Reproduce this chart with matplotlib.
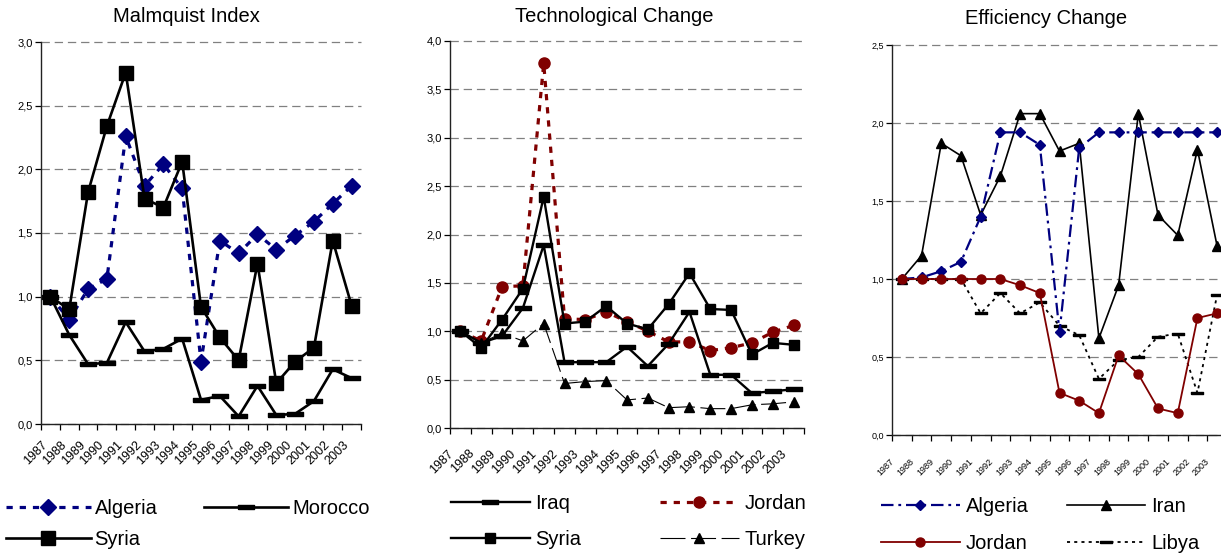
import numpy as np
import matplotlib
matplotlib.use("Agg")
import matplotlib.pyplot as plt
from matplotlib import font_manager
from matplotlib.ticker import FuncFormatter
import matplotlib.transforms as mtransforms

names = {f.name for f in font_manager.fontManager.ttflist}
fam = "Liberation Sans" if "Liberation Sans" in names else "DejaVu Sans"
plt.rcParams['font.family'] = [fam, 'DejaVu Sans']
plt.rcParams['lines.scale_dashes'] = False

years = [str(y) for y in range(1987, 2004)]

# Malmquist Index
mi_algeria = [1.00, 0.82, 1.06, 1.14, 2.26, 1.87, 2.04, 1.85, 0.49, 1.44, 1.34, 1.49, 1.37, 1.48, 1.59, 1.73, 1.87]
mi_morocco = [1.00, 0.70, 0.47, 0.48, 0.80, 0.57, 0.59, 0.67, 0.19, 0.22, 0.06, 0.30, 0.07, 0.08, 0.18, 0.43, 0.36]
mi_syria = [1.00, 0.90, 1.82, 2.34, 2.76, 1.77, 1.70, 2.06, 0.92, 0.68, 0.50, 1.26, 0.32, 0.49, 0.60, 1.44, 0.93]

# Technological Change
tc_iraq = [1.00, 0.88, 0.95, 1.24, 1.89, 0.68, 0.68, 0.68, 0.84, 0.64, 0.87, 1.20, 0.55, 0.55, 0.36, 0.38, 0.40]
tc_jordan = [1.00, 0.90, 1.46, 1.47, 3.77, 1.13, 1.12, 1.20, 1.10, 1.00, 0.89, 0.89, 0.80, 0.83, 0.88, 0.99, 1.06]
tc_syria = [1.00, 0.83, 1.12, 1.44, 2.39, 1.08, 1.10, 1.26, 1.08, 1.02, 1.28, 1.60, 1.23, 1.22, 0.76, 0.88, 0.86]
tc_turkey = [1.00, 0.88, 0.98, 0.90, 1.08, 0.46, 0.48, 0.49, 0.29, 0.31, 0.21, 0.22, 0.20, 0.20, 0.24, 0.25, 0.27]

# Efficiency Change
ec_algeria = [1.00, 1.01, 1.05, 1.11, 1.40, 1.94, 1.94, 1.86, 0.66, 1.84, 1.94, 1.94, 1.94, 1.94, 1.94, 1.94, 1.94]
ec_iran = [1.00, 1.15, 1.87, 1.79, 1.41, 1.66, 2.06, 2.06, 1.82, 1.87, 0.62, 0.96, 2.06, 1.41, 1.28, 1.83, 1.21]
ec_jordan = [1.00, 1.00, 1.00, 1.00, 1.00, 1.00, 0.96, 0.91, 0.27, 0.22, 0.14, 0.51, 0.39, 0.17, 0.14, 0.75, 0.78]
ec_libya = [1.00, 1.00, 1.00, 1.00, 0.78, 0.91, 0.78, 0.85, 0.70, 0.64, 0.36, 0.48, 0.50, 0.63, 0.65, 0.27, 0.90]

NAVY = "#000080"
DRED = "#800000"
BAR = [(-1, -0.25), (1, -0.25), (1, 0.25), (-1, 0.25), (-1, -0.25)]

W, H = 1221, 554
fig = plt.figure(figsize=(W / 100, H / 100), dpi=100)


def px_axes(l, r, t, b):
    return fig.add_axes([l / W, 1 - b / H, (r - l) / W, (b - t) / H])


def style(ax, ymax, ytick_fs, xtick_fs, xoff, xpad):
    x = np.arange(len(years))
    ax.set_xlim(-0.5, len(years) - 0.5)
    ax.set_ylim(0, ymax)
    ax.set_yticks(np.arange(0, ymax + 0.01, 0.5))
    ax.yaxis.set_major_formatter(FuncFormatter(lambda v, p: f"{v:.1f}".replace('.', ',')))
    ax.set_xticks(np.arange(-0.5, len(years), 1.0))
    ax.set_xticklabels([])
    ax.set_xticks(x, minor=True)
    ax.set_xticklabels(years, minor=True, rotation=45, ha='right', va='top',
                       rotation_mode='anchor', fontsize=xtick_fs)
    ax.tick_params(axis='x', which='major', length=4, width=0.9, direction='out')
    ax.tick_params(axis='x', which='minor', length=0, pad=xpad)
    ax.tick_params(axis='y', length=4, width=0.9, labelsize=ytick_fs, pad=2)
    off = mtransforms.ScaledTranslation(xoff / 100, 0, fig.dpi_scale_trans)
    for lab in ax.get_xticklabels(minor=True):
        lab.set_transform(lab.get_transform() + off)
    for s in ['top', 'right']:
        ax.spines[s].set_visible(False)
    for s in ['left', 'bottom']:
        ax.spines[s].set_linewidth(1.0)
        ax.spines[s].set_color('#222222')
    ax.yaxis.grid(True, color='#808080', linewidth=0.9, linestyle=(0, (6, 3.5)))
    ax.set_axisbelow(True)
    for gl in ax.get_ygridlines():
        gl.set_clip_on(False)


x = np.arange(len(years))
LFS = 14.5
TFS = 14.5

# ---- Panel 1
ax1 = px_axes(41, 361, 42, 424)
style(ax1, 3.0, 8, 9, -9, 11)
l_alg, = ax1.plot(x, mi_algeria, color=NAVY, lw=2.3, linestyle=(0, (4.5, 5)),
                  marker='D', ms=8.3, mfc=NAVY, mec=NAVY, label='Algeria', clip_on=False)
l_mor, = ax1.plot(x, mi_morocco, color='black', lw=1.9, marker=BAR, ms=11.5,
                  label='Morocco', clip_on=False)
l_syr, = ax1.plot(x, mi_syria, color='black', lw=1.9, marker='s', ms=10.5,
                  label='Syria', clip_on=False)
fig.text(186 / W, 1 - 17 / H, "Malmquist Index", ha='center', va='center', fontsize=TFS)
ax1.legend(handles=[l_alg, l_syr, l_mor], ncol=2, loc='upper left',
           bbox_to_anchor=(6 / W, 1 - 499 / H), bbox_transform=fig.transFigure,
           frameon=False, fontsize=LFS, handlelength=4.2, handletextpad=0.2,
           columnspacing=2.3, labelspacing=0.62, borderpad=0, borderaxespad=0)

# ---- Panel 2
ax2 = px_axes(450, 804, 41, 428)
style(ax2, 4.0, 8, 9, -13, 14)
l_jor2, = ax2.plot(x, tc_jordan, color=DRED, lw=2.3, linestyle=(0, (4.5, 5)),
                   marker='o', ms=8, mfc=DRED, mec=DRED, label='Jordan', clip_on=False)
l_tur, = ax2.plot(x, tc_turkey, color='black', lw=0.8, linestyle=(0, (18, 4)),
                  marker='^', ms=7.5, label='Turkey', clip_on=False)
l_irq, = ax2.plot(x, tc_iraq, color='black', lw=1.7, marker=BAR, ms=11,
                  label='Iraq', clip_on=False)
l_syr2, = ax2.plot(x, tc_syria, color='black', lw=1.7, marker='s', ms=7.5,
                   label='Syria', clip_on=False)
fig.text(614 / W, 1 - 17 / H, "Technological Change", ha='center', va='center', fontsize=TFS)
ax2.legend(handles=[l_irq, l_syr2, l_jor2, l_tur], ncol=2, loc='upper left',
           bbox_to_anchor=(451 / W, 1 - 494 / H), bbox_transform=fig.transFigure,
           frameon=False, fontsize=LFS, handlelength=3.9, handletextpad=0.3,
           columnspacing=3.9, labelspacing=0.85, borderpad=0, borderaxespad=0)

# ---- Panel 3
ax3 = px_axes(892, 1227, 45, 435)
style(ax3, 2.5, 6.5, 6.5, -12, 16)
l_lib, = ax3.plot(x, ec_libya, color='black', lw=1.3, linestyle=(0, (2.2, 3)),
                  marker=BAR, ms=8, label='Libya', clip_on=False)
l_iran, = ax3.plot(x, ec_iran, color='black', lw=1.2, marker='^', ms=7,
                   label='Iran', clip_on=False)
l_alg3, = ax3.plot(x, ec_algeria, color=NAVY, lw=1.6, linestyle=(0, (9, 3.5, 2, 3.5)),
                   marker='D', ms=4.8, mfc=NAVY, mec=NAVY, label='Algeria', clip_on=False)
l_jor3, = ax3.plot(x, ec_jordan, color=DRED, lw=1.3, marker='o', ms=6.5,
                   mfc=DRED, mec=DRED, label='Jordan', clip_on=False)
fig.text(1046 / W, 1 - 18 / H, "Efficiency Change", ha='center', va='center', fontsize=TFS)
ax3.legend(handles=[l_alg3, l_jor3, l_iran, l_lib], ncol=2, loc='upper left',
           bbox_to_anchor=(881 / W, 1 - 497 / H), bbox_transform=fig.transFigure,
           frameon=False, fontsize=LFS, handlelength=3.9, handletextpad=0.3,
           columnspacing=1.9, labelspacing=0.9, borderpad=0, borderaxespad=0)

fig.savefig("out.png", dpi=100)
